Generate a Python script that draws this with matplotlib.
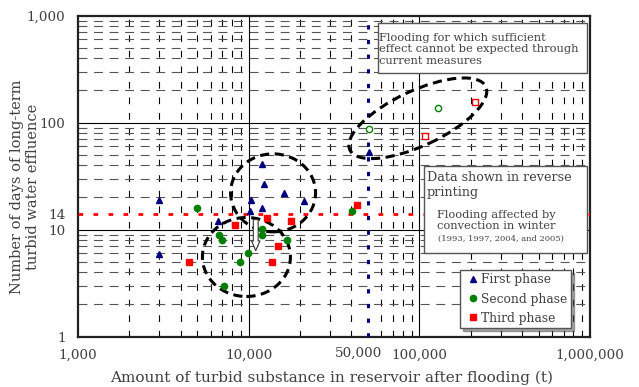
import numpy as np
import matplotlib.pyplot as plt
import matplotlib.transforms as mtransforms
from matplotlib.ticker import LogLocator, FixedLocator, NullFormatter
from matplotlib.patches import Ellipse, Rectangle, Shadow

plt.rcParams['font.family'] = ['DejaVu Serif']

# data (t, days)
first_x = [3000, 3000, 6600, 10200, 10300, 12000, 12000, 12300, 16000, 21000, 51000]
first_y = [18.8, 5.9, 12.0, 15.0, 18.9, 15.8, 40.8, 26.7, 21.9, 18.7, 53.6]

second_x = [5000, 6700, 7000, 7200, 8900, 9900, 12000, 12000, 16700, 40500]
second_y = [16.0, 9.0, 8.0, 3.0, 5.0, 6.0, 10.1, 9.0, 8.0, 15.0]

third_x = [4450, 8300, 12850, 13750, 14850, 17700, 43300]
third_y = [5.0, 11.0, 12.9, 5.0, 7.0, 12.1, 16.9]

# reverse printed (winter convection floods)
second_rev_x = [51000, 128000]
second_rev_y = [87.5, 137]
third_rev_x = [108000, 212000]
third_rev_y = [75.6, 157]

x_ticks = [1000, 10000, 50000, 100000, 1000000]
x_labels = ['1,000', '10,000', '50,000', '100,000', '1,000,000']
y_ticks = [1, 10, 14, 100, 1000]
y_labels = ['1', '10', '14', '100', '1,000']

txt = '#404040'

fig = plt.figure(figsize=(6.39, 3.87), dpi=100)
ax = fig.add_axes([0.1221, 0.130, 0.8012, 0.8294])
ax.set_xscale('log')
ax.set_yscale('log')
ax.set_xlim(1e3, 1e6)
ax.set_ylim(1, 1000)

ax.xaxis.set_major_locator(FixedLocator(x_ticks))
ax.set_xticklabels(x_labels)
ax.yaxis.set_major_locator(FixedLocator(y_ticks))
ax.set_yticklabels(y_labels)
ax.xaxis.set_minor_locator(LogLocator(base=10, subs=np.arange(2, 10)))
ax.yaxis.set_minor_locator(LogLocator(base=10, subs=np.arange(2, 10)))
ax.xaxis.set_minor_formatter(NullFormatter())
ax.yaxis.set_minor_formatter(NullFormatter())
ax.tick_params(which='both', length=0, labelsize=9.7, labelcolor=txt)
ax.tick_params(axis='x', pad=9)
ax.tick_params(axis='y', pad=9)

# the 50,000 label sits a little left and higher in the original
lab = ax.get_xticklabels()[2]
lab.set_transform(lab.get_transform() + mtransforms.ScaledTranslation(-0.09, 0.025, fig.dpi_scale_trans))

ax.grid(which='minor', axis='x', color='black', lw=0.8, ls=(0, (6, 8)))
ax.grid(which='minor', axis='y', color='#555555', lw=0.8, ls=(0, (8, 6)))
for v in [1e4, 1e5]:
    ax.axvline(v, color='black', lw=0.8)
for v in [10, 100]:
    ax.axhline(v, color='black', lw=0.8)

for s in ax.spines.values():
    s.set_linewidth(1.6)
    s.set_color('#222222')

# threshold lines
ax.axhline(14, color='red', lw=2, ls=(0, (1.7, 3.7)), zorder=3)
ax.axvline(50000, color='#000080', lw=2.2, ls=(0, (1.4, 3.4)), zorder=3)

# dashed groupings
def ring(cx, cy, w, h, ang=0):
    tr = fig.dpi_scale_trans + mtransforms.ScaledTranslation(cx, cy, ax.transData)
    ax.add_patch(Ellipse((0, 0), w, h, angle=ang, transform=tr, fill=False,
                         ec='black', lw=2.2, ls=(0, (3, 1.8)), zorder=4))

ring(13900, 22.1, 0.85, 0.78)
ring(9700, 5.56, 0.88, 0.79)
ring(98000, 110, 1.50, 0.55, 25)

ax.plot(first_x, first_y, '^', color='#000080', ms=5, ls='none', zorder=5, label='First phase')
ax.plot(second_x, second_y, 'o', color='#008000', ms=4.5, ls='none', zorder=5, label='Second phase')
ax.plot(third_x, third_y, 's', color='#ff0000', ms=4.5, ls='none', zorder=5, label='Third phase')
ax.plot(second_rev_x, second_rev_y, 'o', mfc='white', mec='#008000', mew=1, ms=4.5, ls='none', zorder=5)
ax.plot(third_rev_x, third_rev_y, 's', mfc='white', mec='#ff0000', mew=1, ms=4.5, ls='none', zorder=5)

ax.annotate('', xy=(11000, 6.0), xytext=(11000, 13.2),
            arrowprops=dict(arrowstyle='simple,head_width=0.6,head_length=0.7,tail_width=0.35',
                            fc='white', ec='#333333', lw=0.8), zorder=6)

ax.set_xlabel('Amount of turbid substance in reservoir after flooding (t)', fontsize=11, color=txt)
ax.xaxis.set_label_coords(0.495, -0.106)
ax.set_ylabel('Number of days of long-term\nturbid water effluence', fontsize=10.5, color=txt)
ax.yaxis.set_label_coords(-0.074, 0.466)

# annotation boxes
def box(x0, y0, w, h):
    r = Rectangle((x0, y0), w, h, transform=fig.transFigure, fc='white', ec='#555555', lw=1, zorder=8)
    sh = Shadow(r, 1.5, -1.5)
    sh.set_zorder(7)
    fig.add_artist(sh)
    fig.add_artist(r)

box(0.592, 0.8106, 0.327, 0.1307)
fig.text(0.5936, 0.8726, 'Flooding for which sufficient\neffect cannot be expected through\ncurrent measures',
         fontsize=8.2, color=txt, va='center', ha='left', linespacing=1.2, zorder=9)

box(0.664, 0.3455, 0.2551, 0.2264)
fig.text(0.6682, 0.5214, 'Data shown in reverse\nprinting', fontsize=9.2, color=txt, va='center', ha='left',
         linespacing=1.2, zorder=9)
fig.text(0.6834, 0.4297, 'Flooding affected by\nconvection in winter', fontsize=8.2, color=txt, va='center',
         ha='left', linespacing=1.14, zorder=9)
fig.text(0.685, 0.3824, '(1993, 1997, 2004, and 2005)', fontsize=6, color=txt, va='center', ha='left', zorder=9)

leg = ax.legend(loc='lower left', bbox_to_anchor=(0.7203, 0.1517), bbox_transform=fig.transFigure,
                borderaxespad=0, fancybox=False, shadow=True, framealpha=1, edgecolor='#555555',
                fontsize=8.8, handlelength=1.5, handletextpad=-0.1, labelspacing=0.5, borderpad=0.3)
for t in leg.get_texts():
    t.set_color(txt)
leg.set_zorder(10)

fig.savefig('out.png', dpi=100)
